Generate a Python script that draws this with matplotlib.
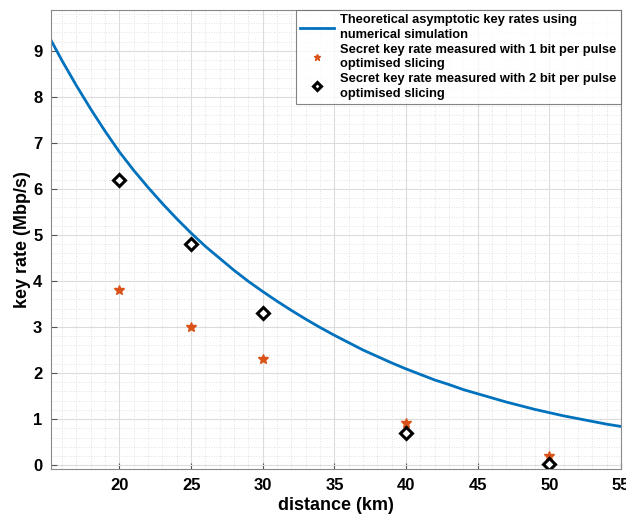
import numpy as np
import matplotlib
matplotlib.use("Agg")
import matplotlib.pyplot as plt
from matplotlib.ticker import MultipleLocator

plt.rcParams['font.family'] = ['Liberation Sans', 'DejaVu Sans']
plt.rcParams['font.weight'] = 'bold'

# theoretical curve (about every km)
theory_km = [15.2, 16, 17, 18, 19, 20, 21, 22, 23, 24, 25, 26, 27, 28, 29, 30,
             31, 32, 33, 34, 35, 36, 37, 38, 39, 40, 41, 42, 43, 44, 45,
             46, 47, 48, 49, 50, 51, 52, 53, 54, 55]
theory_rate = [9.24, 8.78, 8.24, 7.73, 7.25, 6.80, 6.40, 6.03, 5.68, 5.35, 5.04,
               4.75, 4.49, 4.23, 3.99, 3.77, 3.56, 3.36, 3.17, 2.99, 2.82,
               2.66, 2.50, 2.36, 2.22, 2.09, 1.97, 1.85, 1.75, 1.64, 1.55,
               1.46, 1.37, 1.29, 1.21, 1.14, 1.07, 1.01, 0.95, 0.89, 0.84]

# measured points
meas_km = [20, 25, 30, 40, 50]
rate_1bit = [3.8, 3.0, 2.3, 0.92, 0.2]
rate_2bit = [6.2, 4.8, 3.3, 0.7, 0.03]

labels = ['Theoretical asymptotic key rates using\nnumerical simulation',
          'Secret key rate measured with 1 bit per pulse\noptimised slicing',
          'Secret key rate measured with 2 bit per pulse\noptimised slicing']

fig = plt.figure(figsize=(6.26, 5.14), dpi=100)
ax = fig.add_axes([0.081, 0.087, 0.911, 0.894])

ax.plot(theory_km, theory_rate, color='#0072BD', lw=2, label=labels[0])
ax.plot(meas_km, rate_1bit, ls='none', marker='*', ms=7, color='#D95319', label=labels[1])
ax.plot(meas_km, rate_2bit, ls='none', marker='D', ms=6.5, mfc='white', mec='black',
        mew=2.2, label=labels[2])

ax.set_xlim(15.2, 55)
ax.set_ylim(-0.09, 9.89)
ax.xaxis.set_minor_locator(MultipleLocator(1))
ax.yaxis.set_minor_locator(MultipleLocator(0.2))
ax.set_xticks(range(20, 56, 5))
ax.set_yticks(range(0, 10))

ax.grid(which='major', color='#dcdcdc', lw=0.8)
ax.grid(which='minor', color='#d8d8d8', lw=0.6, ls=(0, (1, 2)))
ax.set_axisbelow(True)
for s in ax.spines.values():
    s.set_color('#8a8a8a')
    s.set_linewidth(0.8)
ax.tick_params(which='both', direction='in', top=False, right=False, color='#555555')
ax.tick_params(which='major', length=4, labelsize=12, pad=6)
ax.tick_params(which='minor', length=0)

ax.set_xlabel('distance (km)', fontsize=13, fontweight='bold', labelpad=3)
ax.set_ylabel('key rate (Mbp/s)', fontsize=13, fontweight='bold')
ax.yaxis.set_label_coords(-0.034, 0.5)

leg = ax.legend(loc='upper right', fontsize=9.3, frameon=True, fancybox=False,
                borderaxespad=0.0, handlelength=2.6, labelspacing=0.2,
                borderpad=0.35, handletextpad=0.5, markerscale=0.7)
for t in leg.get_texts():
    t.set_linespacing(1.3)
leg.get_frame().set_edgecolor('#666666')
leg.get_frame().set_linewidth(0.8)

fig.savefig('out.png', dpi=100)
